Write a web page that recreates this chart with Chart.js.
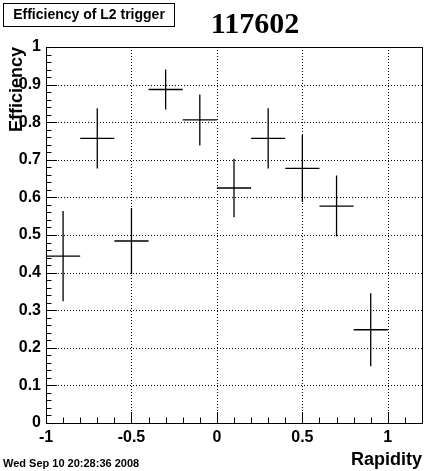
<!DOCTYPE html>
<html><head><meta charset="utf-8">
<script src="https://cdn.jsdelivr.net/npm/chart.js@4/dist/chart.umd.min.js"></script>
<style>html,body{margin:0;padding:0;background:#fff;overflow:hidden}canvas{display:block}</style>
</head><body>
<canvas id="c" width="439" height="471"></canvas>
<script>
// ---- data ----
const binCenters = [-0.9, -0.7, -0.5, -0.3, -0.1, 0.1, 0.3, 0.5, 0.7, 0.9];
const binHalfWidth = [0.1, 0.1, 0.1, 0.1, 0.1, 0.1, 0.1, 0.1, 0.1, 0.1];
const efficiency = [0.444, 0.757, 0.484, 0.887, 0.806, 0.625, 0.757, 0.677, 0.577, 0.248];
const effError = [0.120, 0.080, 0.088, 0.053, 0.068, 0.078, 0.080, 0.089, 0.081, 0.097];
const xTickValues = [-1, -0.5, 0, 0.5, 1];
const xTickLabels = ['-1', '-0.5', '0', '0.5', '1'];
const yTickValues = [0, 0.1, 0.2, 0.3, 0.4, 0.5, 0.6, 0.7, 0.8, 0.9, 1];
const yTickLabels = ['0', '0.1', '0.2', '0.3', '0.4', '0.5', '0.6', '0.7', '0.8', '0.9', '1'];
const histTitle = 'Efficiency of L2 trigger';
const runLabel = '117602';
const dateLabel = 'Wed Sep 10 20:28:36 2008';
const xTitle = 'Rapidity';
const yTitle = 'Efficiency';

const SANS = '"Liberation Sans", Arial, sans-serif';
const SERIF = '"Liberation Serif", "Times New Roman", serif';

const rootStyle = {
  id: 'rootStyle',
  beforeDraw(chart) {
    const ctx = chart.ctx;
    ctx.save();
    ctx.fillStyle = '#fff';
    ctx.fillRect(0, 0, chart.width, chart.height);
    ctx.restore();
  },
  beforeDatasetsDraw(chart) {
    const {ctx, chartArea: a, scales: {x, y}} = chart;
    ctx.save();
    ctx.strokeStyle = '#000';
    ctx.lineWidth = 1;
    ctx.setLineDash([1, 2]);
    xTickValues.forEach(v => {
      const px = Math.round(x.getPixelForValue(v)) + 0.5;
      if (px <= a.left + 1 || px >= a.right - 1) return;
      ctx.beginPath(); ctx.moveTo(px, a.top); ctx.lineTo(px, a.bottom); ctx.stroke();
    });
    yTickValues.forEach(v => {
      const py = Math.round(y.getPixelForValue(v)) + 0.5;
      if (py <= a.top + 1 || py >= a.bottom - 1) return;
      ctx.beginPath(); ctx.moveTo(a.left, py); ctx.lineTo(a.right, py); ctx.stroke();
    });
    ctx.restore();
  },
  afterDatasetsDraw(chart) {
    const {ctx, chartArea: a, scales: {x, y}} = chart;
    ctx.save();
    ctx.strokeStyle = '#000';
    ctx.lineWidth = 1;
    ctx.setLineDash([]);
    // frame
    ctx.strokeRect(Math.round(a.left) + 0.5, Math.round(a.top) + 0.5,
                   Math.round(a.right - a.left), Math.round(a.bottom - a.top));
    // x ticks (inside, from bottom)
    for (let k = Math.round(x.min * 10); k <= Math.round(x.max * 10); k++) {
      const px = Math.round(x.getPixelForValue(k / 10)) + 0.5;
      const len = (k % 5 === 0) ? 11 : 5.5;
      ctx.beginPath(); ctx.moveTo(px, a.bottom); ctx.lineTo(px, a.bottom - len); ctx.stroke();
    }
    // y ticks (inside, from left)
    for (let k = 0; k <= 50; k++) {
      const py = Math.round(y.getPixelForValue(k / 50)) + 0.5;
      const len = (k % 5 === 0) ? 11 : 5.5;
      ctx.beginPath(); ctx.moveTo(a.left, py); ctx.lineTo(a.left + len, py); ctx.stroke();
    }
    // error crosses
    ctx.lineWidth = 1.3;
    binCenters.forEach((c, i) => {
      const x0 = x.getPixelForValue(c - binHalfWidth[i]);
      const x1 = x.getPixelForValue(c + binHalfWidth[i]);
      const xc = x.getPixelForValue(c);
      const yc = y.getPixelForValue(efficiency[i]);
      const y0 = y.getPixelForValue(efficiency[i] - effError[i]);
      const y1 = y.getPixelForValue(efficiency[i] + effError[i]);
      ctx.beginPath();
      ctx.moveTo(x0, yc); ctx.lineTo(x1, yc);
      ctx.moveTo(xc, y0); ctx.lineTo(xc, y1);
      ctx.stroke();
    });
    ctx.restore();
  },
  afterDraw(chart) {
    const ctx = chart.ctx;
    ctx.save();
    // histogram title box
    ctx.fillStyle = '#fff';
    ctx.fillRect(3.5, 3.5, 171, 23);
    ctx.strokeStyle = '#000';
    ctx.lineWidth = 1;
    ctx.strokeRect(3.5, 3.5, 171, 23);
    ctx.fillStyle = '#000';
    ctx.font = 'bold 14px ' + SANS;
    ctx.textAlign = 'center';
    ctx.textBaseline = 'middle';
    ctx.fillText(histTitle, 89, 15.5);
    // run number
    ctx.font = 'bold 30px ' + SERIF;
    ctx.textBaseline = 'alphabetic';
    ctx.fillText(runLabel, 255, 33);
    // date
    ctx.font = 'bold 11px ' + SANS;
    ctx.textAlign = 'left';
    ctx.fillText(dateLabel, 3, 467);
    ctx.restore();
  }
};

new Chart(document.getElementById('c'), {
  type: 'scatter',
  data: {
    datasets: [{
      data: binCenters.map((c, i) => ({x: c, y: efficiency[i]})),
      pointRadius: 0,
      showLine: false
    }]
  },
  options: {
    responsive: false,
    animation: false,
    events: [],
    layout: {padding: {left: 0, right: 17, top: 47, bottom: 0}},
    plugins: {legend: {display: false}, tooltip: {enabled: false}, title: {display: false}},
    scales: {
      x: {
        type: 'linear', min: -1, max: 1.2,
        afterBuildTicks: s => { s.ticks = xTickValues.map(v => ({value: v})); },
        afterFit: s => { s.height = 48; },
        grid: {display: false, drawTicks: false},
        border: {display: false},
        ticks: {
          callback: (v, i) => xTickLabels[i],
          autoSkip: false, maxRotation: 0, padding: 5,
          color: '#000', font: {family: SANS, weight: 'bold', size: 16}
        },
        title: {
          display: true, text: xTitle, align: 'end', color: '#000',
          font: {family: SANS, weight: 'bold', size: 18}, padding: {top: 0, bottom: 0}
        }
      },
      y: {
        type: 'linear', min: 0, max: 1,
        afterBuildTicks: s => { s.ticks = yTickValues.map(v => ({value: v})); },
        afterFit: s => { s.width = 46; },
        grid: {display: false, drawTicks: false},
        border: {display: false},
        ticks: {
          callback: (v, i) => yTickLabels[i],
          autoSkip: false, padding: 5,
          color: '#000', font: {family: SANS, weight: 'bold', size: 16}
        },
        title: {
          display: true, text: yTitle, align: 'end', color: '#000',
          font: {family: SANS, weight: 'bold', size: 18}, padding: {top: 6, bottom: 0}
        }
      }
    }
  },
  plugins: [rootStyle]
});
</script>
</body></html>
